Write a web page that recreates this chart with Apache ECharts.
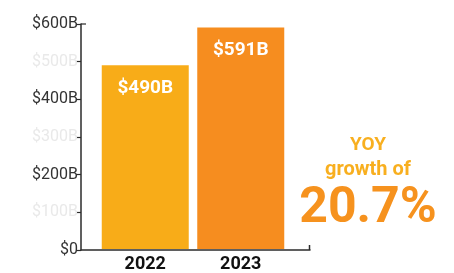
<!DOCTYPE html>
<html><head><meta charset="utf-8">
<script src="https://cdn.jsdelivr.net/npm/echarts@6/dist/echarts.min.js"></script>
<style>html,body{margin:0;padding:0;background:#fff}#c{width:454px;height:273px}</style>
</head><body><div id="c"></div>
<script>
const years = ['2022', '2023'];
const revenue = [490, 591];
const barLabels = ['$490B', '$591B'];
const yTicks = [0, 100, 200, 300, 400, 500, 600];
const yTickLabels = ['$0', '$100B', '$200B', '$300B', '$400B', '$500B', '$600B'];
const growthLine1 = 'YOY';
const growthLine2 = 'growth of';
const growthValue = '20.7%';

const barColors = ['#F8AC18', '#F68D1F'];
const font = 'Roboto';

const chart = echarts.init(document.getElementById('c'), null, {renderer: 'canvas'});
chart.setOption({
  animation: false,
  grid: [
    {left: 81, right: 144, top: 24, bottom: 23},
    {left: 97.5, width: 191, top: 24, bottom: 23}
  ],
  xAxis: [
    {gridIndex: 0, type: 'category', data: years, show: true,
     axisLine: {show: true, lineStyle: {color: '#2b2b2b', width: 1.5}},
     axisTick: {show: false}, axisLabel: {show: false}},
    {gridIndex: 1, type: 'category', data: years,
     axisLine: {show: false}, axisTick: {show: false},
     axisLabel: {color: '#111', fontFamily: font, fontWeight: 'bold', fontSize: 18, margin: 6}}
  ],
  yAxis: [
    {gridIndex: 0, type: 'value', min: 0, max: 600, interval: 100,
     axisLine: {show: true, lineStyle: {color: '#2b2b2b', width: 1.5}},
     axisTick: {show: true, length: 5, lineStyle: {color: '#2b2b2b', width: 1.2}},
     splitLine: {show: false},
     axisLabel: {margin: 3, fontFamily: font, fontSize: 16,
       formatter: function (v) {
         const i = yTicks.indexOf(v);
         const t = yTickLabels[i];
         return (i % 2 === 0) ? '{d|' + t + '}' : '{l|' + t + '}';
       },
       rich: {
         d: {color: '#333', fontFamily: font, fontSize: 16},
         l: {color: '#e9e9e9', fontFamily: font, fontSize: 16}
       }}},
    {gridIndex: 1, type: 'value', min: 0, max: 600, show: false}
  ],
  series: [{
    type: 'bar', xAxisIndex: 1, yAxisIndex: 1,
    data: revenue.map((v, i) => ({value: v, itemStyle: {color: barColors[i]},
      label: {formatter: barLabels[i]}})),
    barWidth: 87,
    label: {show: true, position: 'insideTop', distance: 13, color: '#fff',
      fontFamily: font, fontWeight: 'bold', fontSize: 19}
  }],
  graphic: [
    {type: 'line', shape: {x1: 309.5, y1: 245, x2: 309.5, y2: 250}, style: {stroke: '#2b2b2b', lineWidth: 1.5}},
    {type: 'line', shape: {x1: 81, y1: 24, x2: 86, y2: 24}, style: {stroke: '#2b2b2b', lineWidth: 1.2}},
    {type: 'text', x: 368, y: 145, style: {text: growthLine1, fill: '#F8AF1F', font: 'bold 19px Roboto', textAlign: 'center', textVerticalAlign: 'middle'}},
    {type: 'text', x: 368, y: 170, style: {text: growthLine2, fill: '#F8AF1F', font: 'bold 20px Roboto', textAlign: 'center', textVerticalAlign: 'middle'}},
    {type: 'text', x: 368, y: 209, style: {text: growthValue, fill: '#F6921E', font: 'bold 50px Roboto', textAlign: 'center', textVerticalAlign: 'middle'}}
  ]
});
</script></body></html>
